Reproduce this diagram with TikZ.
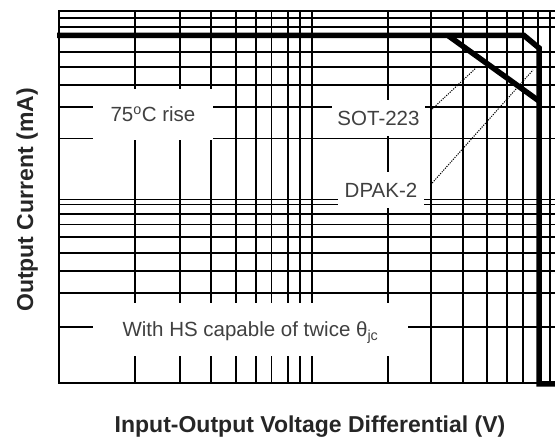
\documentclass[tikz,border=0pt]{standalone}
\usepackage{fontspec}
\setmainfont{Liberation Sans}
\newcommand\notefont{\fontsize{20.5}{24}\selectfont}
\newcommand\axisfont{\fontsize{23}{27}\selectfont\bfseries}

\begin{document}
\begin{tikzpicture}[x=1pt,
                    y=-1pt,
                    grid line/.style={line width=1.5pt, line cap=rect},
                    curve/.style={line width=5.5pt},
                    leader/.style={line width=1pt, dash pattern=on 1.2pt off 1.2pt},
                    note box/.style={fill=white, inner sep=0pt, text height=14.5pt,
                                     text depth=0pt, font=\notefont, text=black!75},
                    axis label/.style={anchor=base, font=\axisfont, text=black!85}]

  \useasboundingbox (0,0) rectangle (555,438);

  % log grid
  \foreach \y in {11,18,27,52,67,85,107,138.5,199.5,204.5,214,224.5,237,253,271,293,327,383}
    \draw[grid line] (59,\y) -- (555,\y);
  \foreach \x in {59,135,180,211,236,256,271.5,288,300,312,388,431,463,487,507,523,538,550}
    \draw[grid line] (\x,11) -- (\x,383);

  \node[note box, minimum width=120pt, minimum height=51pt] (rise) at (153,114.5) {75\textsuperscript{o}C rise};
  \node[note box, minimum width=93pt, minimum height=36pt] (sot) at (378.5,118.5) {SOT-223};
  \node[note box, minimum width=86pt, minimum height=36pt] (dpak) at (381,190) {DPAK-2};
  \node[note box, minimum width=315pt, minimum height=53pt] (hs) at (250.5,329.5) {With HS capable of twice θ\textsubscript{jc}};

  \coordinate (sot tip) at (476,68);
  \coordinate (dpak tip) at (533,70);
  \draw[leader] (sot.east) ++(7,-9.5) -- (sot tip);
  \draw[leader] (dpak.east) ++(8,-7) -- (dpak tip);

  % derating curves
  \draw[curve] (57,35.5) -- (524,35.5) -- (539,48) -- (539,384) -- (555,384);
  \draw[curve] (448,35.5) -- (539,101);

  \node[axis label, rotate=90] (ylab) at (33,200) {Output Current (mA)};
  \node[axis label] (xlab) at (310,432.5) {Input-Output Voltage Differential (V)};
\end{tikzpicture}
\end{document}
